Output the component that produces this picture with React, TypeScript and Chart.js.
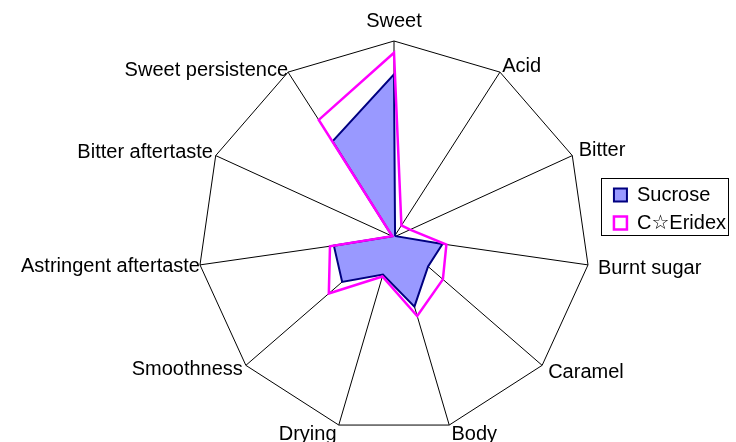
import React, { useEffect, useRef } from 'react';
import { Chart, registerables } from 'chart.js';

Chart.register(...registerables);

// ---- data ----
const CATEGORIES = [
  'Sweet',
  'Acid',
  'Bitter',
  'Burnt sugar',
  'Caramel',
  'Body',
  'Drying',
  'Smoothness',
  'Astringent aftertaste',
  'Bitter aftertaste',
  'Sweet persistence',
];
const SUCROSE = [8.3, 0.1, 0.1, 2.5, 2.3, 3.7, 2.0, 3.5, 3.1, 0.1, 5.8];
const ERIDEX = [9.4, 0.7, 0.9, 2.7, 3.3, 4.2, 2.1, 4.4, 3.3, 0.1, 7.1];
const SERIES_NAMES = ['Sucrose', 'C☆Eridex'];
const AXIS_MIN = 0;
const AXIS_MAX = 10;

// ---- layout / style ----
const LABEL_PADDING = [18, 4, 7, 10, 8, 8, 8, 4, 0, 3, 0];
const CENTER_X = 394;
const CENTER_Y = 237;
const RADIUS = 196;
const FONT = "'Liberation Sans', Arial, 'DejaVu Sans', sans-serif";

const legendFrame = {
  id: 'legendFrame',
  afterDraw(chart: any) {
    const lg = chart.legend;
    if (!lg || !lg.legendHitBoxes || !lg.legendHitBoxes.length) return;
    const hb = lg.legendHitBoxes;
    const left = Math.min(...hb.map((h: any) => h.left)) - 13;
    const right = Math.max(...hb.map((h: any) => h.left + h.width)) + 2;
    const top = hb[0].top - 7;
    const last = hb[hb.length - 1];
    const bottom = last.top + last.height + 2;
    const ctx = chart.ctx;
    ctx.save();
    ctx.strokeStyle = '#000';
    ctx.lineWidth = 1;
    ctx.strokeRect(
      Math.round(left) + 0.5,
      Math.round(top) + 0.5,
      Math.round(right - left),
      Math.round(bottom - top)
    );
    ctx.restore();
  },
};

export default function App() {
  const ref = useRef<HTMLCanvasElement>(null);

  useEffect(() => {
    const canvas = ref.current;
    if (!canvas) return;
    const chart = new Chart(canvas, {
      type: 'radar',
      data: {
        labels: CATEGORIES,
        datasets: [
          {
            label: SERIES_NAMES[0],
            data: SUCROSE,
            borderColor: '#000080',
            backgroundColor: '#9999FF',
            borderWidth: 2,
            fill: true,
            order: 1,
          },
          {
            label: SERIES_NAMES[1],
            data: ERIDEX,
            borderColor: '#FF00FF',
            backgroundColor: 'rgba(0,0,0,0)',
            borderWidth: 2.5,
            fill: false,
            order: 0,
          },
        ],
      },
      options: {
        responsive: false,
        animation: false,
        devicePixelRatio: 1,
        layout: { padding: { right: 0, bottom: 24 } },
        elements: {
          point: { radius: 0, hoverRadius: 0 },
          line: { tension: 0, borderJoinStyle: 'miter' },
        },
        plugins: {
          tooltip: { enabled: false },
          legend: {
            position: 'right',
            labels: {
              boxWidth: 13,
              boxHeight: 13,
              padding: 8,
              color: '#000',
              font: { family: FONT, size: 20 },
              sort: (a: any, b: any) => a.datasetIndex - b.datasetIndex,
            },
          },
        },
        scales: {
          r: {
            min: AXIS_MIN,
            max: AXIS_MAX,
            ticks: { display: false, stepSize: AXIS_MAX - AXIS_MIN },
            grid: { color: '#000', lineWidth: 1, circular: false },
            angleLines: { display: true, color: '#000', lineWidth: 1 },
            pointLabels: {
              color: '#000',
              font: { family: FONT, size: 20, lineHeight: 0.2 },
              padding: (ctx: any) => LABEL_PADDING[ctx.index] ?? 5,
            },
            beforeFit: (scale: any) => {
              scale.xCenter = CENTER_X;
              scale.yCenter = CENTER_Y;
              scale.drawingArea = RADIUS;
              scale.setCenterPoint = () => {};
            },
          },
        },
      } as any,
      plugins: [legendFrame],
    });
    return () => chart.destroy();
  }, []);

  return (
    <canvas
      ref={ref}
      width={736}
      height={442}
      style={{ position: 'fixed', left: 0, top: 0, width: 736, height: 442, display: 'block' }}
    />
  );
}
